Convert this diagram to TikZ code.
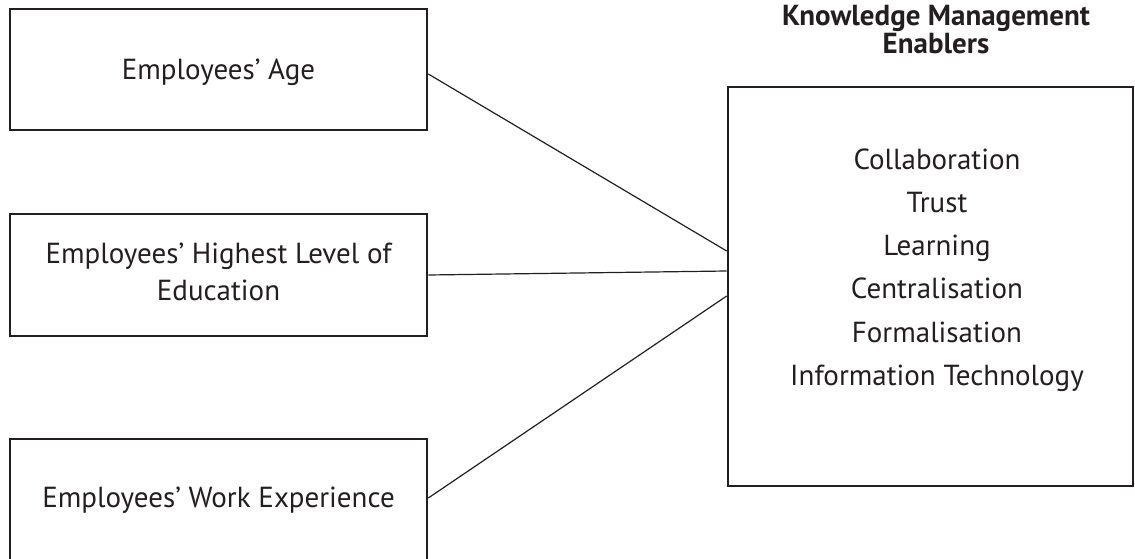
\documentclass[tikz,border=0pt]{standalone}
\usepackage{fontspec}
\setmainfont{PT Sans}
\definecolor{ink}{RGB}{35,31,32}
\begin{document}
\begin{tikzpicture}[x=1pt,y=-1pt]
\tikzset{
  box/.style={draw=ink, line width=2.6pt, inner sep=0pt, rectangle},
  link/.style={draw=ink, line width=1.2pt},
  txt/.style={font=\fontsize{29}{34}\selectfont, inner sep=0pt, anchor=base, text=ink},
  head/.style={font=\bfseries\fontsize{29}{26}\selectfont, inner sep=0pt, anchor=base, text=ink},
}
\useasboundingbox (0,0) rectangle (1135,559);
\clip (0,0) rectangle (1135,559);
% left boxes
\node[box, minimum width=417pt, minimum height=121pt] (age) at (218.5,69.5) {};
\node[box, minimum width=417pt, minimum height=122pt] (edu) at (218.5,275) {};
\node[box, minimum width=417pt, minimum height=161pt] (work) at (218.5,519.5) {};
% right box
\node[box, minimum width=405pt, minimum height=399pt] (kme) at (930.5,286.5) {};
% texts
\node[txt] (agetxt) at (218.5,80) {Employees’ Age};
\node[txt] (edutxt1) at (218.5,263) {Employees’ Highest Level of};
\node[txt] (edutxt2) at (218.5,300) {Education};
\node[txt] (worktxt) at (218.5,507) {Employees’ Work Experience};
\node[head] (head1) at (936,25.5) {Knowledge Management};
\node[head] (head2) at (936,54) {Enablers};
\node[txt] (it1) at (937,169) {Collaboration};
\node[txt] (it2) at (937,212) {Trust};
\node[txt] (it3) at (937,255) {Learning};
\node[txt] (it4) at (937,298) {Centralisation};
\node[txt] (it5) at (937,342) {Formalisation};
\node[txt] (it6) at (937,385) {Information Technology};
% connectors
\draw[link] ([yshift=-4.5pt]age.east) -- ([yshift=35.5pt]kme.west);
\draw[link] ([yshift=0pt]edu.east) -- ([yshift=15.5pt]kme.west);
\draw[link] ([yshift=21.5pt]work.east) -- ([yshift=-9.5pt]kme.west);
\end{tikzpicture}
\end{document}
